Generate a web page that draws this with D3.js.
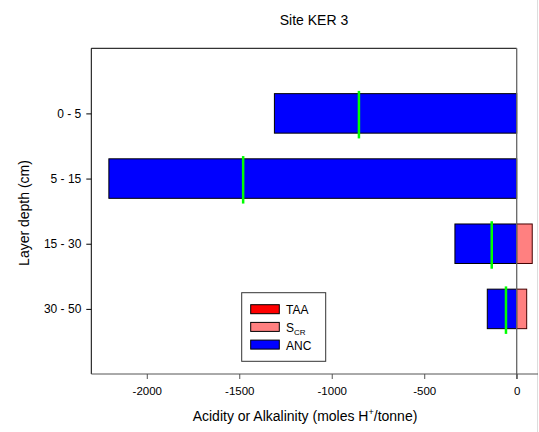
<!DOCTYPE html>
<html>
<head>
<meta charset="utf-8">
<script src="https://cdn.jsdelivr.net/npm/d3@7"></script>
<style>
  body { margin: 0; background: #fff; }
  text { font-family: "Liberation Sans", Arial, sans-serif; }
</style>
</head>
<body>
<svg id="canvas" width="539" height="432"></svg>
<script>
let layers = ['0 - 5', '5 - 15', '15 - 30', '30 - 50']
let ancValues = [-1310, -2205, -334, -159]
let scrValues = [0, 0, 84, 54]
let taaValues = [0, 0, 0, 0]
let markerValues = [-853, -1479, -135, -58]
let xTicks = [-2000, -1500, -1000, -500, 0]

let svg = d3.select('#canvas')

let x = d3.scaleLinear().domain([-2300, 0]).range([91.3, 516.7])
let y = d3.scalePoint().domain(layers).range([113.4, 308.9])
let plotTop = 48.3, plotBottom = 374, plotRight = 538
let barH = 39.5

// title
svg.append('text')
   .attr('x', 314).attr('y', 25)
   .attr('text-anchor', 'middle')
   .style('font-size', '14px')
   .text('Site KER 3')

// frame lines
svg.append('line')
   .attr('x1', x(-2300)).attr('x2', x(0))
   .attr('y1', plotTop).attr('y2', plotTop)
   .attr('stroke', '#000')
svg.append('line')
   .attr('x1', plotRight - 0.5).attr('x2', plotRight - 0.5)
   .attr('y1', 0).attr('y2', 432)
   .attr('stroke', '#ddd')

// bars
let rows = layers.map((d, i) => ({ layer: d, anc: ancValues[i], scr: scrValues[i], taa: taaValues[i], mark: markerValues[i] }))

svg.selectAll('rect.anc')
   .data(rows)
   .enter()
   .append('rect')
   .attr('class', 'anc')
   .attr('x', (d) => x(d.anc))
   .attr('y', (d) => y(d.layer) - barH / 2)
   .attr('width', (d) => x(0) - x(d.anc))
   .attr('height', barH)
   .attr('fill', '#0000ff')
   .attr('stroke', '#000')

svg.selectAll('rect.scr')
   .data(rows.filter((d) => d.scr > 0))
   .enter()
   .append('rect')
   .attr('class', 'scr')
   .attr('x', x(0))
   .attr('y', (d) => y(d.layer) - barH / 2)
   .attr('width', (d) => x(d.scr) - x(0))
   .attr('height', barH)
   .attr('fill', '#ff8080')
   .attr('stroke', '#400')

// zero line
svg.append('line')
   .attr('x1', x(0)).attr('x2', x(0))
   .attr('y1', plotTop).attr('y2', plotBottom + 5)
   .attr('stroke', '#666')
   .attr('stroke-width', 1.3)

// green markers
svg.selectAll('line.mark')
   .data(rows)
   .enter()
   .append('line')
   .attr('class', 'mark')
   .attr('x1', (d) => x(d.mark)).attr('x2', (d) => x(d.mark))
   .attr('y1', (d) => y(d.layer) - 22.5)
   .attr('y2', (d) => y(d.layer) + 25)
   .attr('stroke', '#00ff00')
   .attr('stroke-width', 2.5)

// left axis
let yAxis = svg.append('g')
   .attr('transform', 'translate(' + x(-2300) + ',0)')
   .call(d3.axisLeft(y).tickSize(5).tickPadding(5))
yAxis.select('.domain').attr('d', 'M0,' + plotTop + 'V' + plotBottom)
yAxis.selectAll('text').style('font-size', '12px').attr('fill', '#000')

// bottom axis
let xAxis = svg.append('g')
   .attr('transform', 'translate(0,' + plotBottom + ')')
   .call(d3.axisBottom(x).tickValues(xTicks).tickFormat((d) => String(d)).tickSize(5).tickPadding(8))
xAxis.select('.domain').attr('d', 'M' + x(-2300) + ',0H' + plotRight).attr('stroke', '#555')
xAxis.selectAll('.tick line').attr('stroke', '#555')
xAxis.selectAll('text').style('font-size', '11.5px').attr('fill', '#000')

// axis titles
svg.append('text')
   .attr('transform', 'translate(29,213) rotate(-90)')
   .attr('text-anchor', 'middle')
   .style('font-size', '14px')
   .text('Layer depth (cm)')

let xt = svg.append('text')
   .attr('x', 305).attr('y', 421)
   .attr('text-anchor', 'middle')
   .style('font-size', '14px')
xt.append('tspan').text('Acidity or Alkalinity (moles H')
xt.append('tspan').attr('dy', -6).style('font-size', '9px').text('+')
xt.append('tspan').attr('dy', 6).text('/tonne)')

// legend
let legendItems = [
  { name: 'TAA', sub: '', color: '#ff0000' },
  { name: 'S', sub: 'CR', color: '#ff8080' },
  { name: 'ANC', sub: '', color: '#0000ff' }
]
let legend = svg.append('g')
legend.append('rect')
   .attr('x', 241.7).attr('y', 292.7)
   .attr('width', 84).attr('height', 68.6)
   .attr('fill', '#fff').attr('stroke', '#333')
let li = legend.selectAll('g.item')
   .data(legendItems)
   .enter()
   .append('g')
   .attr('transform', (d, i) => 'translate(250.7,' + (304.7 + i * 17.7) + ')')
li.append('rect')
   .attr('width', 28.6).attr('height', 9)
   .attr('fill', (d) => d.color)
   .attr('stroke', '#000')
let lt = li.append('text')
   .attr('x', 35.3).attr('y', 9.5)
   .style('font-size', '12px')
lt.append('tspan').text((d) => d.name)
lt.append('tspan').attr('dy', 3).style('font-size', '8px').text((d) => d.sub)
</script>
</body>
</html>
